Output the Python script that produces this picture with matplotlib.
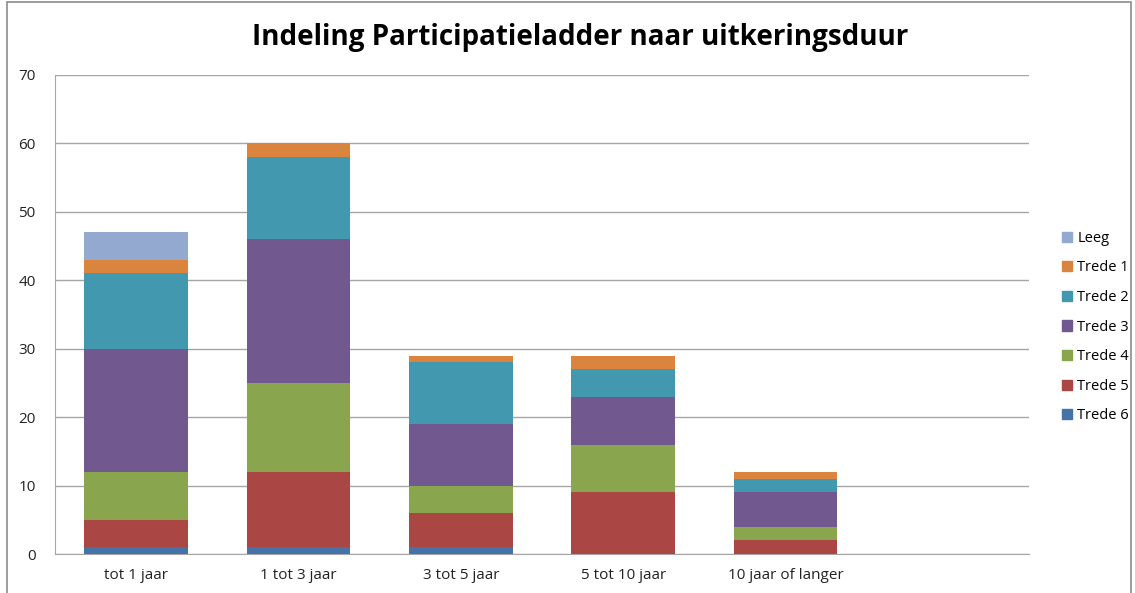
import matplotlib
matplotlib.use("Agg")
import matplotlib.pyplot as plt
import numpy as np
from matplotlib.patches import Rectangle, Patch

categories = ["tot 1 jaar", "1 tot 3 jaar", "3 tot 5 jaar", "5 tot 10 jaar", "10 jaar of langer"]
series_names = ["Trede 6", "Trede 5", "Trede 4", "Trede 3", "Trede 2", "Trede 1", "Leeg"]
trede6 = [1, 1, 1, 0, 0]
trede5 = [4, 11, 5, 9, 2]
trede4 = [7, 13, 4, 7, 2]
trede3 = [18, 21, 9, 7, 5]
trede2 = [11, 12, 9, 4, 2]
trede1 = [2, 2, 1, 2, 1]
leeg = [4, 0, 0, 0, 0]
colors = ["#4572A7", "#AA4643", "#89A54E", "#71588F", "#4198AF", "#DB843D", "#93A9CF"]
yticks = [0, 10, 20, 30, 40, 50, 60, 70]

plt.rcParams['font.family'] = ['Open Sans', 'DejaVu Sans']

fig = plt.figure(figsize=(11.35, 5.93), dpi=100)
ax = fig.add_axes([55/1135, (593-554)/593, (1029-55)/1135, (554-75)/593])

x = np.arange(len(categories))
bottom = np.zeros(len(categories))
handles = []
for name, vals, c in zip(series_names, [trede6, trede5, trede4, trede3, trede2, trede1, leeg], colors):
    ax.bar(x, vals, width=0.64, bottom=bottom, color=c, label=name, zorder=3)
    bottom += np.array(vals)
    handles.append(Patch(color=c, label=name))

ax.set_xlim(-0.5, 5.5)
ax.set_ylim(0, 70)
ax.set_yticks(yticks)
ax.set_yticklabels([str(v) for v in yticks], fontsize=11, color="#222222")
ax.set_xticks(x)
ax.set_xticklabels(categories, fontsize=11, color="#222222")
ax.tick_params(axis='both', length=0, pad=10)
ax.tick_params(axis='y', pad=14)
ax.yaxis.grid(True, color="#A6A6A6", linewidth=1.0, zorder=0)
ax.set_axisbelow(True)
for s in ["top", "right"]:
    ax.spines[s].set_visible(False)
ax.spines["left"].set_color("#A6A6A6")
ax.spines["bottom"].set_color("#A6A6A6")

fig.text(580/1135, 1 - 38/593, "Indeling Participatieladder naar uitkeringsduur",
         ha="center", va="center", fontsize=20, fontweight="bold", color="black")

leg = fig.legend(handles=handles[::-1], loc="upper left", bbox_to_anchor=(1056/1135, 1 - 225/593),
                 frameon=False, fontsize=10.5, handlelength=0.7, handleheight=0.7,
                 handletextpad=0.35, labelspacing=1.0, borderaxespad=0)

fig.patches.append(Rectangle((7/1135, -0.1), (1131-7)/1135, 1.1 - 2/593, transform=fig.transFigure,
                             fill=False, edgecolor="#8C8C8C", linewidth=1.2))

fig.savefig("out.png", dpi=100)
